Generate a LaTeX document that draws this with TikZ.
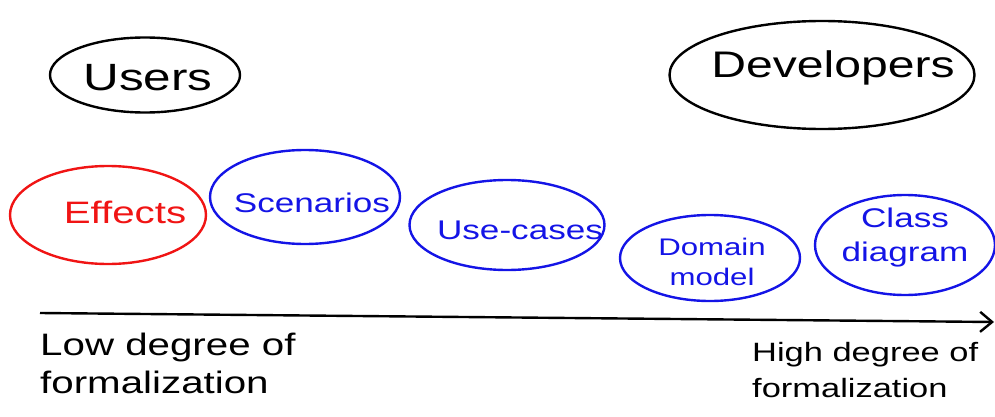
\documentclass[tikz,border=0pt]{standalone}
\usepackage{fontspec}
\setmainfont{Liberation Sans}
\newfontfamily\hand[FakeStretch=1.3]{Liberation Sans}
\usetikzlibrary{shapes.geometric,arrows.meta}
\definecolor{hblue}{RGB}{20,20,230}
\definecolor{hred}{RGB}{240,20,20}
\tikzset{
  blob/.style={ellipse, draw, line width=2.4pt, inner sep=0pt},
  bluebox/.style={blob, draw=hblue, text=hblue, align=center},
  txt/.style={inner sep=0pt, align=center},
  lbl/.style={font=\hand\fontsize{31}{38}\selectfont, align=left, anchor=north west, inner sep=0pt},
}
\begin{document}
\begin{tikzpicture}[x=1pt,y=-1pt]
\useasboundingbox (0,0) rectangle (995,417);
\node[blob, minimum width=190pt, minimum height=75pt] (users) at (145,75) {};
\node[txt, font=\hand\fontsize{38}{40}\selectfont] (userst) at (148,78) {Users};
\node[blob, minimum width=305pt, minimum height=108pt] (dev) at (822,75) {};
\node[txt, font=\hand\fontsize{37}{40}\selectfont] (devt) at (833,68) {Developers};
\node[blob, draw=hred, minimum width=196pt, minimum height=98pt] (eff) at (108,215) {};
\node[txt, text=hred, font=\hand\fontsize{31}{34}\selectfont] (efft) at (125,212) {Effects};
\node[bluebox, minimum width=190pt, minimum height=94pt] (scen) at (305,197) {};
\node[txt, text=hblue, font=\hand\fontsize{27}{30}\selectfont] (scent) at (312,203) {Scenarios};
\node[bluebox, minimum width=195pt, minimum height=90pt] (uc) at (507,225) {};
\node[txt, text=hblue, font=\hand\fontsize{27}{30}\selectfont] (uct) at (520,230) {Use-cases};
\node[bluebox, minimum width=180pt, minimum height=86pt] (dm) at (710,258) {};
\node[txt, text=hblue, font=\hand\fontsize{24}{30}\selectfont] (dmt) at (712,262) {Domain\\model};
\node[bluebox, minimum width=180pt, minimum height=100pt] (cd) at (905,245) {};
\node[txt, text=hblue, font=\hand\fontsize{27}{34}\selectfont] (cdt) at (905,238) {Class\\diagram};
\coordinate (start) at (40,313);
\coordinate (end) at (994,322);
\draw[line width=2.4pt, -{Straight Barb[length=12pt,width=20pt]}] (start) -- (end);
\node[lbl] (low) at (40,333) {Low degree of\\formalization};
\node[lbl, font=\hand\fontsize{26.5}{36}\selectfont] (high) at (752,342) {High degree of\\formalization};
\end{tikzpicture}
\end{document}
